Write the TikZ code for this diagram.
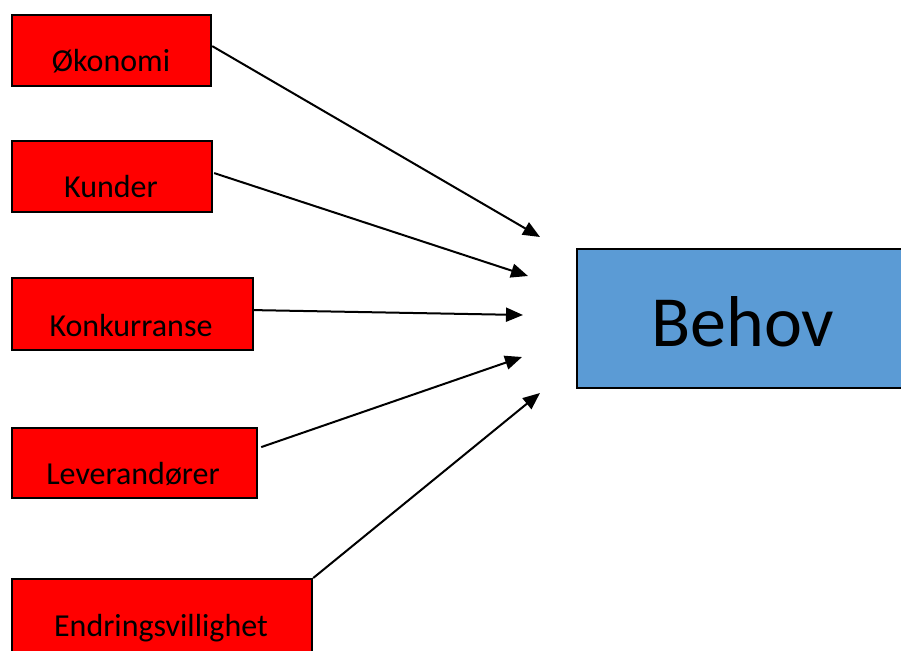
\documentclass[tikz,border=0pt]{standalone}
\usepackage{fontspec}
\setmainfont{Carlito}
\usetikzlibrary{arrows.meta,calc}
\definecolor{boxred}{HTML}{FF0000}
\definecolor{boxblue}{HTML}{5B9BD5}
\begin{document}
\begin{tikzpicture}[x=1pt,y=-1pt,
  factor/.style={draw=black,line width=2.2pt,fill=boxred,anchor=north west,inner sep=0pt},
  goal/.style={draw=black,line width=2.2pt,fill=boxblue,anchor=north west,inner sep=0pt},
  ftext/.style={anchor=base,font=\fontsize{32}{36}\selectfont,inner sep=0pt},
  gtext/.style={anchor=base,font=\fontsize{72}{80}\selectfont,inner sep=0pt},
  conn/.style={line width=2pt,-{Triangle[length=17pt,width=14pt]}}]
\useasboundingbox (0,0) rectangle (901,650);
\begin{scope}
\clip (0,0) rectangle (901,650);
\node[factor,minimum width=199pt,minimum height=71pt] (ok) at (11,14) {};
\node[factor,minimum width=200pt,minimum height=71pt] (ku) at (11,140) {};
\node[factor,minimum width=241pt,minimum height=72pt] (ko) at (11,277) {};
\node[factor,minimum width=245pt,minimum height=70pt] (le) at (11,427) {};
\node[factor,minimum width=300pt,minimum height=120pt] (en) at (11,578) {};
\node[goal,minimum width=340pt,minimum height=139pt] (be) at (576,248) {};
\end{scope}
\node[ftext] (okt) at (111,72) {Økonomi};
\node[ftext] (kut) at (111,197) {Kunder};
\node[ftext] (kot) at (131,336) {Konkurranse};
\node[ftext] (let) at (133,484) {Leverandører};
\node[ftext] (ent) at (161,636) {Endringsvillighet};
\node[gtext] (bet) at (743,346) {Behov};
\coordinate (t1) at (540,237);
\coordinate (t2) at (528,276);
\coordinate (t3) at (523,315);
\coordinate (t4) at (522,357);
\coordinate (t5) at (540,393);
\draw[conn] ([yshift=4.5pt]ok.east) -- (t1);
\draw[conn] ([yshift=3.5pt,xshift=1pt]ku.east) -- (t2);
\draw[conn] ([yshift=4pt]ko.east) -- (t3);
\draw[conn] ([yshift=16pt,xshift=3pt]le.east) -- (t4);
\draw[conn] (en.north east) -- (t5);
\end{tikzpicture}
\end{document}
